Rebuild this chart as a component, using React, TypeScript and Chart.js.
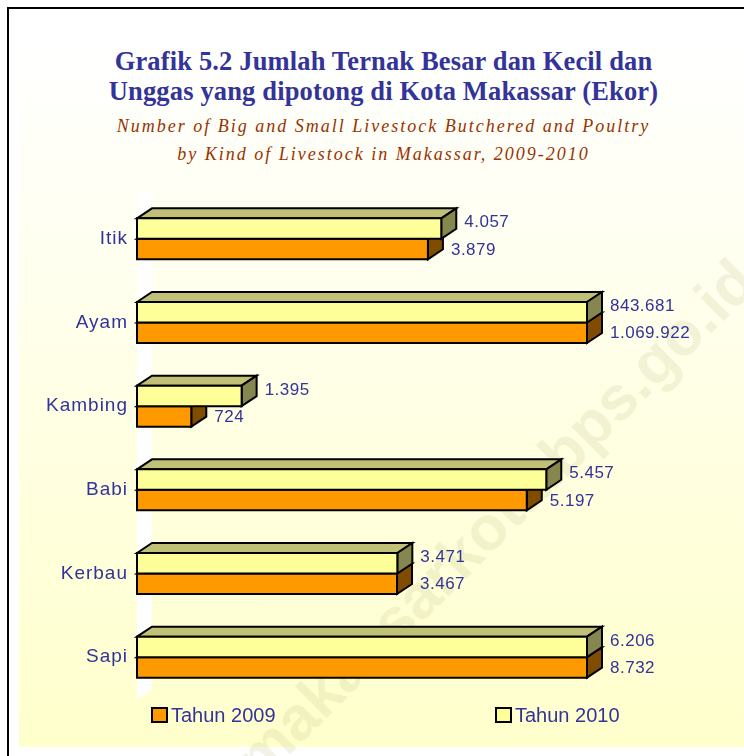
import React, { useEffect, useRef } from "react";
import { Chart, registerables } from "chart.js";

Chart.register(...registerables);

const categories = ["Itik", "Ayam", "Kambing", "Babi", "Kerbau", "Sapi"];
const values2009 = [3879, 1069922, 724, 5197, 3467, 8732];
const values2010 = [4057, 843681, 1395, 5457, 3471, 6206];
const seriesLabels = ["Tahun 2009", "Tahun 2010"];
const axisMax = 6000;

const titleLines = [
  "Grafik 5.2 Jumlah Ternak Besar dan Kecil dan",
  "Unggas yang dipotong di Kota Makassar (Ekor)",
];
const subtitleLines = [
  "Number of Big and Small Livestock Butchered and Poultry",
  "by Kind of Livestock in Makassar, 2009-2010",
];
const watermark = "makassarkota.bps.go.id";

const TEXT_BLUE = "#333399";
const SANS = "'Liberation Sans', Arial, sans-serif";
const DX = 15;
const DY = 10;

// faces: front, top, side — dataset 0 = 2010 (yellow, upper), dataset 1 = 2009 (orange, lower)
const faceColors = [
  { front: "#FFFF99", top: "#C0C077", side: "#86864F" },
  { front: "#FF9900", top: "#BF7300", side: "#7F4C00" },
];

function fmt(n: number): string {
  return String(n).replace(/\B(?=(\d{3})+(?!\d))/g, ".");
}

function poly(ctx: CanvasRenderingContext2D, pts: number[][], fill: string) {
  ctx.beginPath();
  ctx.moveTo(pts[0][0], pts[0][1]);
  for (let i = 1; i < pts.length; i++) ctx.lineTo(pts[i][0], pts[i][1]);
  ctx.closePath();
  ctx.fillStyle = fill;
  ctx.fill();
  ctx.stroke();
}

const bars3d = {
  id: "bars3d",
  beforeDraw(chart: any) {
    (chart.ctx as any).letterSpacing = "1px";
  },
  beforeDatasetsDraw(chart: any) {
    const ctx: CanvasRenderingContext2D = chart.ctx;
    const { left, top, bottom } = chart.chartArea;
    ctx.save();
    ctx.fillStyle = "#FFFFFF";
    ctx.beginPath();
    ctx.moveTo(left, top);
    ctx.lineTo(left + DX, top - DY);
    ctx.lineTo(left + DX, bottom - DY);
    ctx.lineTo(left, bottom);
    ctx.closePath();
    ctx.fill();
    ctx.restore();
  },
  afterDatasetsDraw(chart: any) {
    const ctx: CanvasRenderingContext2D = chart.ctx;
    const area = chart.chartArea;
    ctx.save();
    ctx.lineWidth = 2;
    ctx.strokeStyle = "#000000";
    ctx.lineJoin = "miter";
    const n = chart.data.labels.length;
    const order = [1, 0];
    const labelItems: any[] = [];
    for (let j = 0; j < n; j++) {
      for (const di of order) {
        const meta = chart.getDatasetMeta(di);
        const el: any = meta.data[j];
        const c = faceColors[di];
        const x0 = el.base;
        const x1 = Math.min(el.x, area.right);
        const yT = el.y - el.height / 2;
        const yB = el.y + el.height / 2;
        poly(ctx, [[x0, yT], [x0 + DX, yT - DY], [x1 + DX, yT - DY], [x1, yT]], c.top);
        poly(ctx, [[x1, yT], [x1 + DX, yT - DY], [x1 + DX, yB - DY], [x1, yB]], c.side);
        poly(ctx, [[x0, yT], [x1, yT], [x1, yB], [x0, yB]], c.front);
        const v = chart.data.datasets[di].data[j];
        labelItems.push({
          text: fmt(v),
          x: x1 + DX + 8,
          y: di === 0 ? el.y - 6 : el.y + 1,
        });
      }
    }
    (ctx as any).letterSpacing = "0.5px";
    ctx.font = `17px ${SANS}`;
    ctx.fillStyle = TEXT_BLUE;
    ctx.textAlign = "left";
    ctx.textBaseline = "middle";
    for (const it of labelItems) ctx.fillText(it.text, it.x, it.y);

    // legend
    (ctx as any).letterSpacing = "0px";
    ctx.font = `20px ${SANS}`;
    const ly = area.bottom + 16;
    const legendItems = [
      { label: chart.data.datasets[1].label, color: faceColors[1].front, x: area.left + 15 },
      { label: chart.data.datasets[0].label, color: faceColors[0].front, x: area.left + 359 },
    ];
    for (const it of legendItems) {
      ctx.fillStyle = it.color;
      ctx.fillRect(it.x, ly - 7, 15, 14);
      ctx.strokeRect(it.x, ly - 7, 15, 14);
      ctx.fillStyle = TEXT_BLUE;
      ctx.fillText(it.label, it.x + 19, ly + 1);
    }
    ctx.restore();
  },
  afterDraw(chart: any) {
    (chart.ctx as any).letterSpacing = "0px";
  },
};

export default function App() {
  const canvasRef = useRef<HTMLCanvasElement>(null);

  useEffect(() => {
    const chart = new Chart(canvasRef.current as HTMLCanvasElement, {
      type: "bar",
      data: {
        labels: categories,
        datasets: [
          { label: seriesLabels[1], data: values2010, backgroundColor: "rgba(0,0,0,0)", borderWidth: 0 },
          { label: seriesLabels[0], data: values2009, backgroundColor: "rgba(0,0,0,0)", borderWidth: 0 },
        ],
      },
      options: {
        indexAxis: "y",
        responsive: false,
        animation: false,
        devicePixelRatio: 1,
        layout: { padding: { top: 197, bottom: 57, left: 0, right: 157 } },
        datasets: { bar: { categoryPercentage: 0.49, barPercentage: 1 } },
        scales: {
          x: { display: false, min: 0, max: axisMax },
          y: {
            grid: { display: false, drawTicks: false },
            border: { display: false },
            ticks: {
              padding: 9,
              color: TEXT_BLUE,
              font: { family: SANS, size: 19 },
            },
            afterFit: (s: any) => {
              s.width = 137;
            },
          },
        },
        plugins: {
          legend: { display: false },
          title: { display: false },
          tooltip: { enabled: false },
        },
      } as any,
      plugins: [bars3d as any],
    });
    return () => chart.destroy();
  }, []);

  const serif = "'Liberation Serif', 'Times New Roman', serif";
  const lineStyle = (top: number): React.CSSProperties => ({
    position: "absolute",
    left: 19,
    width: 729,
    top,
    textAlign: "center",
    whiteSpace: "nowrap",
  });

  return (
    <div style={{ position: "fixed", left: 0, top: 0, width: 744, height: 756, overflow: "hidden", background: "#FFFFFF" }}>
      <div
        style={{
          position: "absolute",
          left: 19,
          top: 10,
          width: 740,
          height: 737,
          background: "linear-gradient(to bottom, #FFFFFF 0%, #FFFFFF 5%, #FFFFCC 100%)",
        }}
      />
      <div
        style={{
          position: "absolute",
          left: 7,
          top: 7,
          width: 800,
          height: 800,
          border: "2px solid #000000",
          boxSizing: "border-box",
        }}
      />
      <div
        style={{
          position: "absolute",
          left: 495 - 400,
          top: 520 - 40,
          width: 800,
          height: 80,
          lineHeight: "80px",
          textAlign: "center",
          transform: "rotate(-45deg)",
          fontFamily: SANS,
          fontWeight: "bold",
          fontSize: 62,
          color: "rgba(170,165,110,0.15)",
          whiteSpace: "nowrap",
        }}
      >
        {watermark}
      </div>
      {titleLines.map((t, i) => (
        <div
          key={"t" + i}
          style={{
            ...lineStyle(48 + i * 30),
            fontFamily: serif,
            fontWeight: "bold",
            fontSize: 26.5,
            lineHeight: "26px",
            letterSpacing: 0.15,
            color: TEXT_BLUE,
          }}
        >
          {t}
        </div>
      ))}
      {subtitleLines.map((t, i) => (
        <div
          key={"s" + i}
          style={{
            ...lineStyle(117 + i * 28),
            fontFamily: serif,
            fontStyle: "italic",
            fontSize: 18,
            lineHeight: "18px",
            letterSpacing: 2,
            color: "#993300",
          }}
        >
          {t}
        </div>
      ))}
      <canvas
        ref={canvasRef}
        width={744}
        height={756}
        style={{ position: "absolute", left: 0, top: 0, width: 744, height: 756 }}
      />
    </div>
  );
}
